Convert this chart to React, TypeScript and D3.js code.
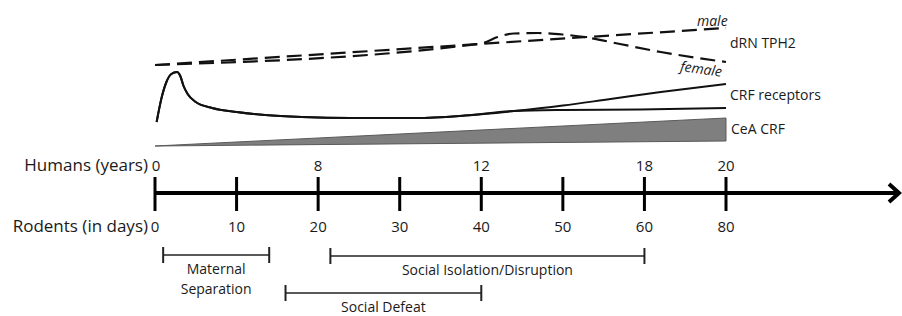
import * as d3 from "d3";

// rodent age ticks (days) and the matching human ages (years)
const rodentTicks = [0, 10, 20, 30, 40, 50, 60, 80];
const humanTicks = ["0", "", "8", "", "12", "", "18", "20"];

// dRN TPH2 (dashed), in rodent days / relative level
const maleDays = [0, 80];
const maleLevel = [81, 118];
const femaleDays = [0, 40, 42, 44, 47, 50, 53, 57, 64, 80];
const femaleLevel = [81, 102.5, 109, 112.5, 113, 111.5, 108.5, 102, 94, 84];

// CRF receptors (two branches share the early part)
const crfDays = [0.2, 0.8, 1.4, 2, 2.7, 3.1, 3.5, 4, 5, 7, 10, 13.5, 18, 24, 32, 38, 44];
const crfLevel = [24, 48, 64, 72, 74, 70, 60, 52, 44, 38, 34, 31, 29, 28, 28, 30.5, 35];
const crfUpperDays = [50, 55, 64, 80];
const crfUpperLevel = [40.5, 46, 54, 62];
const crfLowerDays = [50, 59.5, 80];
const crfLowerLevel = [36, 36.5, 38];

// CeA CRF wedge
const ceaDays = [0, 80];
const ceaTop = [0, 28];
const ceaBottom = [0, 5];

// stress paradigms (rodent days)
const periodNames = [["Maternal", "Separation"], ["Social Isolation/Disruption"], ["Social Defeat"]];
const periodStart = [1, 21.5, 16];
const periodEnd = [14, 60, 40];

const W = 902;
const H = 316;
const FONT = "'Open Sans', sans-serif";

export default function App() {
  const step = (726 - 155) / (rodentTicks.length - 1);
  const x = d3
    .scaleLinear()
    .domain(rodentTicks)
    .range(rodentTicks.map((_, i) => 155 + i * step));
  const y = d3.scaleLinear().domain([0, 130]).range([146, 16]);

  const axisY = 193;
  const periodRows = [255, 256, 293];

  const makeLine = (days: number[], lv: number[]) =>
    d3
      .line<number>()
      .x((_, i) => x(days[i]))
      .y((_, i) => y(lv[i]))
      .curve(d3.curveMonotoneX)(days) as string;

  const upperDays = crfDays.concat(crfUpperDays);
  const upperLevel = crfLevel.concat(crfUpperLevel);
  const lowerDays = crfDays.concat(crfLowerDays);
  const lowerLevel = crfLevel.concat(crfLowerLevel);

  const cea = d3
    .area<number>()
    .x((d) => x(d))
    .y0((_, i) => y(ceaBottom[i]))
    .y1((_, i) => y(ceaTop[i]))(ceaDays) as string;

  const txt = { fontFamily: FONT, fill: "#1a1a1a" } as const;

  return (
    <svg
      width={W}
      height={H}
      style={{ position: "absolute", left: 0, top: 0, background: "#fff" }}
    >
      {/* dRN TPH2 */}
      <path
        d={makeLine(maleDays, maleLevel)}
        fill="none"
        stroke="#111"
        strokeWidth={2.2}
        strokeDasharray="15 7"
      />
      <path
        d={makeLine(femaleDays, femaleLevel)}
        fill="none"
        stroke="#111"
        strokeWidth={2.2}
        strokeDasharray="15 7"
      />
      {/* CRF receptors */}
      <path d={makeLine(upperDays, upperLevel)} fill="none" stroke="#111" strokeWidth={2} />
      <path d={makeLine(lowerDays, lowerLevel)} fill="none" stroke="#111" strokeWidth={2} />
      {/* CeA CRF */}
      <path d={cea} fill="#7f7f7f" stroke="#5a5a5a" strokeWidth={1} />

      <text x={697} y={26} fontSize={14} fontStyle="italic" {...txt}>
        male
      </text>
      <text
        x={680}
        y={74}
        fontSize={14}
        fontStyle="italic"
        transform="rotate(8 702 70)"
        {...txt}
      >
        female
      </text>
      <text x={730} y={48} fontSize={14} {...txt}>
        dRN TPH2
      </text>
      <text x={730} y={100} fontSize={14} {...txt}>
        CRF receptors
      </text>
      <text x={731} y={134} fontSize={14} {...txt}>
        CeA CRF
      </text>

      {/* timeline */}
      <line x1={x(0)} x2={898} y1={axisY} y2={axisY} stroke="#000" strokeWidth={4} />
      <polyline
        points={`889,184 899,${axisY} 889,202`}
        fill="none"
        stroke="#000"
        strokeWidth={4}
        strokeLinejoin="miter"
      />
      {rodentTicks.map((t, i) => (
        <g key={t}>
          <line
            x1={x(t)}
            x2={x(t)}
            y1={axisY - 16}
            y2={axisY + 18}
            stroke="#000"
            strokeWidth={3}
          />
          <text x={x(t)} y={axisY + 39} fontSize={15} textAnchor="middle" {...txt}>
            {t}
          </text>
          {humanTicks[i] && (
            <text
              x={x(t) + (i === 0 ? 1 : 0)}
              y={axisY - 22}
              fontSize={15}
              textAnchor="middle"
              {...txt}
            >
              {humanTicks[i]}
            </text>
          )}
        </g>
      ))}
      <text x={148} y={axisY - 22} fontSize={17} textAnchor="end" {...txt}>
        Humans (years)
      </text>
      <text x={148} y={axisY + 39} fontSize={17} textAnchor="end" {...txt}>
        Rodents (in days)
      </text>

      {/* stress paradigms */}
      {periodNames.map((lines, i) => {
        const x1 = x(periodStart[i]);
        const x2 = x(periodEnd[i]);
        const py = periodRows[i];
        return (
          <g key={i}>
            <line x1={x1} x2={x2} y1={py} y2={py} stroke="#222" strokeWidth={1.5} />
            <line x1={x1} x2={x1} y1={py - 8} y2={py + 8} stroke="#222" strokeWidth={2} />
            <line x1={x2} x2={x2} y1={py - 8} y2={py + 8} stroke="#222" strokeWidth={2} />
            {lines.map((l, j) => (
              <text
                key={j}
                x={(x1 + x2) / 2}
                y={py + 19 + j * 20}
                fontSize={14}
                textAnchor="middle"
                {...txt}
              >
                {l}
              </text>
            ))}
          </g>
        );
      })}
    </svg>
  );
}
